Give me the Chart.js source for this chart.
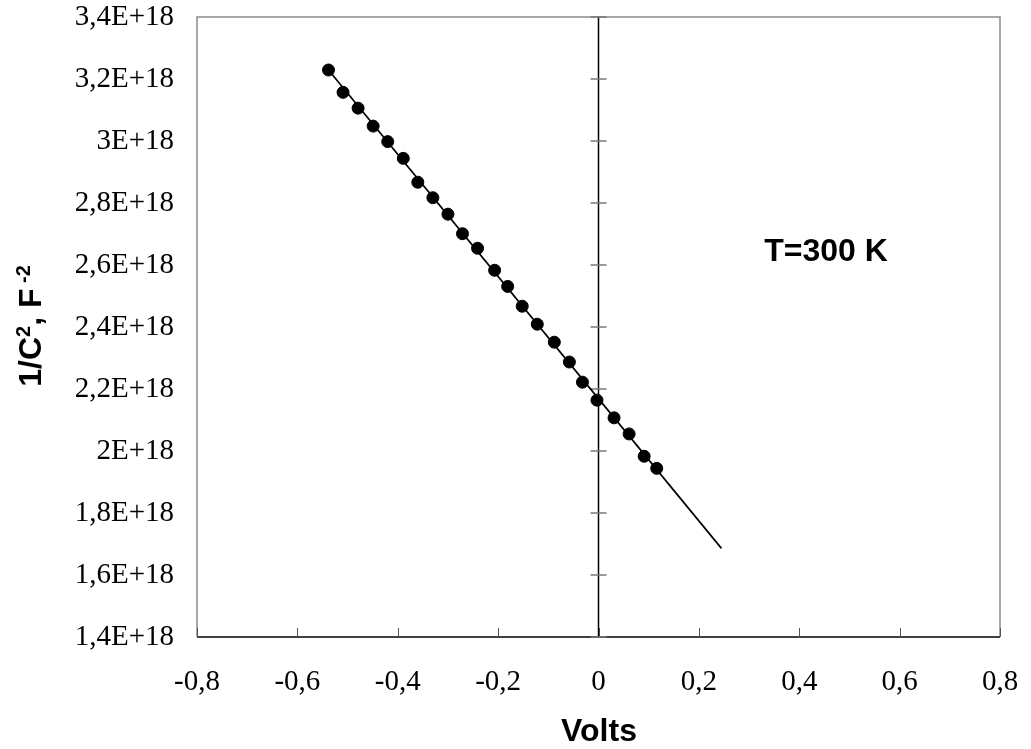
<!DOCTYPE html>
<html>
<head>
<meta charset="utf-8">
<script src="https://cdn.jsdelivr.net/npm/chart.js@4"></script>
<style>
    body { margin: 0; background: #fff; }
    #wrap { width: 1031px; height: 749px; position: relative; }
</style>
</head>
<body>
<div id="wrap"><canvas id="cv"></canvas></div>
<script>
// Measured points (Volts, 1/C^2 in units of 1E18 F^-2)
const volts = [-0.538, -0.509, -0.479, -0.449, -0.420, -0.389, -0.360, -0.330, -0.300, -0.271,
    -0.241, -0.207, -0.181, -0.152, -0.122, -0.088, -0.058, -0.032, -0.003, 0.031,
    0.061, 0.091, 0.116];
const invC2 = [3.229, 3.157, 3.106, 3.048, 2.998, 2.944, 2.867, 2.817, 2.764, 2.701,
    2.654, 2.583, 2.531, 2.467, 2.409, 2.351, 2.287, 2.222, 2.164, 2.107,
    2.055, 1.983, 1.944];

// Linear fit line end points
const fitVolts = [-0.538, 0.245];
const fitInvC2 = [3.229, 1.686];

// Axis ranges
const xRange = [-0.8, 0.8, 0.2];
const yRange = [1.4, 3.4, 0.2];

const E18 = 1e18;
const pts = volts.map((v, i) => ({ x: v, y: invC2[i] * E18 }));
const fit = fitVolts.map((v, i) => ({ x: v, y: fitInvC2[i] * E18 }));

function commaNum(v) {
    return String(Math.round(v * 10) / 10).replace('.', ',');
}

// Frame, zero axis with cross ticks, titles and annotation
const decorPlugin = {
    id: 'decor',
    beforeDatasetsDraw(chart) {
        const { ctx, chartArea: a, scales } = chart;
        const xs = scales.x, ys = scales.y;
        ctx.save();
        // gray frame
        ctx.strokeStyle = '#8a8a8a';
        ctx.lineWidth = 1.5;
        ctx.beginPath();
        ctx.moveTo(a.left, a.bottom);
        ctx.lineTo(a.left, a.top);
        ctx.lineTo(a.right, a.top);
        ctx.lineTo(a.right, a.bottom);
        ctx.stroke();
        // bottom axis
        ctx.strokeStyle = '#404040';
        ctx.lineWidth = 2;
        ctx.beginPath();
        ctx.moveTo(a.left, a.bottom);
        ctx.lineTo(a.right, a.bottom);
        ctx.stroke();
        // inner ticks on bottom axis
        ctx.lineWidth = 1;
        ctx.strokeStyle = '#555';
        xs.ticks.forEach(t => {
            const px = Math.round(xs.getPixelForValue(t.value)) + 0.5;
            ctx.beginPath();
            ctx.moveTo(px, a.bottom);
            ctx.lineTo(px, a.bottom - 9);
            ctx.stroke();
        });
        // vertical axis at x = 0
        const x0 = xs.getPixelForValue(0);
        ctx.strokeStyle = '#000';
        ctx.lineWidth = 1.5;
        ctx.beginPath();
        ctx.moveTo(x0, a.top);
        ctx.lineTo(x0, a.bottom);
        ctx.stroke();
        ctx.strokeStyle = '#777';
        ctx.lineWidth = 1.5;
        ys.ticks.forEach(t => {
            const py = ys.getPixelForValue(t.value);
            ctx.beginPath();
            ctx.moveTo(x0 - 8, py);
            ctx.lineTo(x0 + 8, py);
            ctx.stroke();
        });
        ctx.restore();
    },
    afterDraw(chart) {
        const { ctx } = chart;
        ctx.save();
        ctx.fillStyle = '#000';
        ctx.textBaseline = 'middle';
        ctx.textAlign = 'center';
        ctx.font = 'bold 32px "Liberation Sans", Arial, sans-serif';
        ctx.fillText('Volts', 599, 732);
        ctx.fillText('T=300 K', 826, 252);

        // rotated y title with superscripts
        const parts = [
            ['1/C', 32, 0], ['2', 20, -11], [', F', 32, 0], [' -2', 20, -11]
        ];
        let total = 0;
        parts.forEach(p => {
            ctx.font = 'bold ' + p[1] + 'px "Liberation Sans", Arial, sans-serif';
            total += ctx.measureText(p[0]).width;
        });
        ctx.translate(30, 326);
        ctx.rotate(-Math.PI / 2);
        ctx.textAlign = 'left';
        ctx.textBaseline = 'alphabetic';
        let x = -total / 2;
        parts.forEach(p => {
            ctx.font = 'bold ' + p[1] + 'px "Liberation Sans", Arial, sans-serif';
            ctx.fillText(p[0], x, 11 + p[2]);
            x += ctx.measureText(p[0]).width;
        });
        ctx.restore();
    }
};

const tickFont = { family: '"Liberation Serif", "Times New Roman", serif', size: 29 };

new Chart(document.getElementById('cv'), {
    type: 'scatter',
    data: {
        datasets: [
            {
                label: 'fit',
                data: fit,
                showLine: true,
                borderColor: '#000',
                borderWidth: 1.7,
                pointRadius: 0,
                fill: false
            },
            {
                label: '1/C2',
                data: pts,
                showLine: false,
                pointRadius: 6,
                pointBorderWidth: 1,
                pointBackgroundColor: '#000',
                pointBorderColor: '#000'
            }
        ]
    },
    options: {
        responsive: true,
        maintainAspectRatio: false,
        animation: false,
        layout: { padding: { top: 17, right: 31, left: 0, bottom: 0 } },
        plugins: {
            legend: { display: false },
            tooltip: { enabled: false }
        },
        scales: {
            x: {
                type: 'linear',
                min: xRange[0],
                max: xRange[1],
                ticks: {
                    stepSize: xRange[2],
                    color: '#000',
                    font: tickFont,
                    padding: 28,
                    maxRotation: 0,
                    callback: v => commaNum(v)
                },
                grid: { display: false, drawTicks: false },
                border: { display: false },
                afterFit: s => {
                    s.height = 112;
                    s.paddingLeft = 0;
                    s.paddingRight = 0;
                }
            },
            y: {
                type: 'linear',
                min: yRange[0] * E18,
                max: yRange[1] * E18,
                ticks: {
                    stepSize: yRange[2] * E18,
                    color: '#000',
                    font: tickFont,
                    padding: 23,
                    callback: v => commaNum(v / E18) + 'E+18'
                },
                grid: { display: false, drawTicks: false },
                border: { display: false },
                afterFit: s => {
                    s.width = 197;
                    s.paddingTop = 0;
                    s.paddingBottom = 0;
                }
            }
        }
    },
    plugins: [decorPlugin]
});
</script>
</body>
</html>
